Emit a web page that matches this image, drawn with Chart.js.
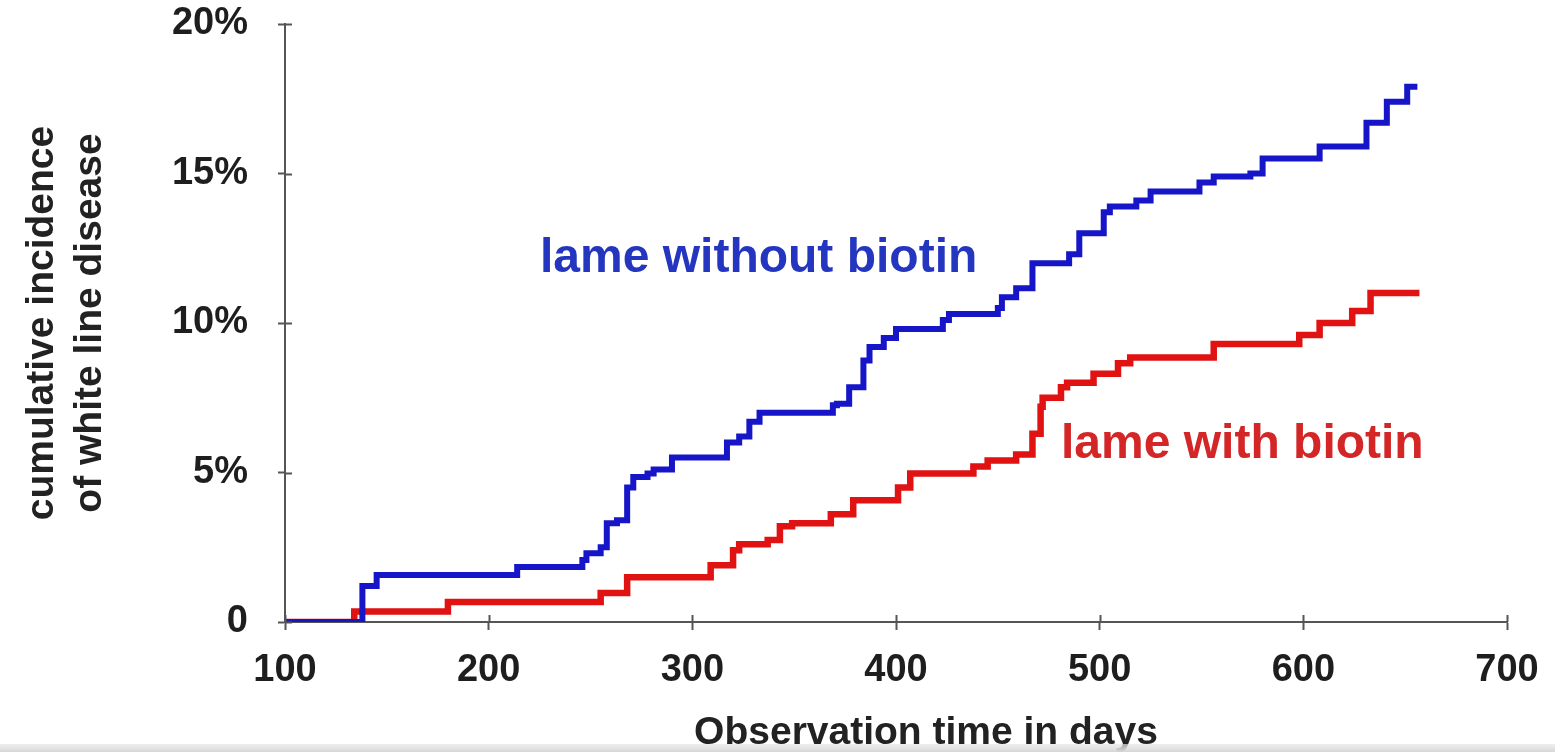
<!DOCTYPE html>
<html>
<head>
<meta charset="utf-8">
<script src="https://cdn.jsdelivr.net/npm/chart.js@4.4.0/dist/chart.umd.min.js"></script>
<style>
  html, body { margin: 0; padding: 0; background: #fff; }
  #wrap { width: 1555px; height: 752px; position: relative; }
</style>
</head>
<body>
<div id="wrap"><canvas id="chart_id"></canvas></div>
<script>
// day of each step and cumulative incidence (%) after it
const blueDays = [100, 132, 138, 145, 214, 246, 248, 255, 258, 263, 268, 271, 278, 281, 290, 317, 323, 328, 333, 369, 371, 377, 384, 387, 394, 400, 423, 426, 450, 452, 459, 467, 485, 490, 502, 505, 518, 525, 549, 556, 574, 580, 608, 631, 641, 651, 656];
const bluePct  = [0, 0, 1.2, 1.57, 1.84, 2.07, 2.3, 2.5, 3.3, 3.4, 4.5, 4.85, 4.97, 5.1, 5.5, 6.0, 6.2, 6.7, 7.0, 7.25, 7.3, 7.85, 8.75, 9.2, 9.5, 9.8, 10.1, 10.3, 10.5, 10.86, 11.16, 12.0, 12.3, 13.0, 13.7, 13.9, 14.1, 14.4, 14.7, 14.9, 15.0, 15.5, 15.9, 16.7, 17.4, 17.9, 17.9];

const redDays = [100, 134, 180, 255, 268, 309, 320, 323, 337, 343, 349, 368, 379, 401, 407, 438, 445, 459, 467, 471, 472, 481, 484, 497, 509, 515, 556, 598, 608, 624, 633, 657];
const redPct  = [0, 0.35, 0.67, 0.97, 1.5, 1.9, 2.4, 2.6, 2.74, 3.2, 3.3, 3.6, 4.07, 4.5, 4.97, 5.2, 5.4, 5.6, 6.3, 7.2, 7.5, 7.85, 8.0, 8.3, 8.65, 8.85, 9.3, 9.6, 10.0, 10.4, 11.0, 11.0];

const xTicks = [100, 200, 300, 400, 500, 600, 700];
const yTicks = [0, 5, 10, 15, 20];

const blueColor = '#1616c8';
const redColor = '#e01212';

function toPoints(days, pct) {
    return days.map((d, i) => ({ x: d, y: pct[i] }));
}

// labels on the plot, x title and the cross ticks
const extras = {
    id: 'extras',
    afterDraw(chart) {
        const ctx = chart.ctx;
        const xs = chart.scales.x, ys = chart.scales.y;
        ctx.save();
        ctx.strokeStyle = '#555';
        ctx.lineWidth = 2;
        xTicks.forEach(v => {
            let px = Math.round(xs.getPixelForValue(v)) + 0.5;
            ctx.beginPath();
            ctx.moveTo(px, ys.bottom);
            ctx.lineTo(px, ys.bottom - 7);
            ctx.stroke();
        });
        yTicks.forEach(v => {
            let py = Math.round(ys.getPixelForValue(v)) + 0.5;
            ctx.beginPath();
            ctx.moveTo(xs.left, py);
            ctx.lineTo(xs.left + 7, py);
            ctx.stroke();
        });

        ctx.textBaseline = 'middle';
        ctx.font = 'bold 48px "Liberation Sans", Arial, sans-serif';
        ctx.fillStyle = '#2436c0';
        ctx.textAlign = 'left';
        ctx.fillText('lame without biotin', 540, 259);
        ctx.fillStyle = '#d42626';
        ctx.fillText('lame with biotin', 1061, 445);

        ctx.font = 'bold 39px "Liberation Sans", Arial, sans-serif';
        ctx.fillStyle = '#222';
        ctx.textAlign = 'center';
        ctx.fillText('Observation time in days', 926, 733);

        // grey strip at the bottom of the screenshot
        let g = ctx.createLinearGradient(0, 742, 0, 752);
        g.addColorStop(0, 'rgba(235,235,235,0.6)');
        g.addColorStop(1, '#d6d6d6');
        ctx.fillStyle = g;
        ctx.fillRect(0, 744, 1555, 8);
        ctx.restore();
    }
};

new Chart(document.getElementById('chart_id'), {
    type: 'line',
    plugins: [extras],
    data: {
        datasets: [
            {
                label: 'lame without biotin',
                data: toPoints(blueDays, bluePct),
                borderColor: blueColor,
                borderWidth: 6,
                stepped: true,
                pointRadius: 0,
                fill: false
            },
            {
                label: 'lame with biotin',
                data: toPoints(redDays, redPct),
                borderColor: redColor,
                borderWidth: 6.5,
                stepped: true,
                pointRadius: 0,
                fill: false
            }
        ]
    },
    options: {
        responsive: true,
        maintainAspectRatio: false,
        animation: false,
        layout: { padding: { left: 0, right: 48, top: 24, bottom: 0 } },
        plugins: {
            legend: { display: false },
            tooltip: { enabled: false }
        },
        scales: {
            x: {
                type: 'linear',
                min: 100,
                max: 700,
                afterFit: (s) => { s.height = 130; s.paddingLeft = 0; s.paddingRight = 0; },
                afterBuildTicks: (s) => { s.ticks = xTicks.map(v => ({ value: v })); },
                border: { color: '#555', width: 2 },
                grid: { drawOnChartArea: false, tickLength: 8, tickColor: '#555', tickWidth: 2 },
                ticks: {
                    color: '#1e1e1e',
                    padding: 18,
                    maxRotation: 0,
                    font: { family: '"Liberation Sans", Arial, sans-serif', size: 38, weight: 'bold' }
                },
                title: { display: false }
            },
            y: {
                min: 0,
                max: 20,
                afterFit: (s) => { s.width = 285; s.paddingTop = 0; s.paddingBottom = 0; },
                afterBuildTicks: (s) => { s.ticks = yTicks.map(v => ({ value: v })); },
                border: { color: '#555', width: 2 },
                grid: { drawOnChartArea: false, tickLength: 7, tickColor: '#555', tickWidth: 2 },
                ticks: {
                    color: '#1e1e1e',
                    padding: 30,
                    callback: (v) => v === 0 ? '0' : v + '%',
                    font: { family: '"Liberation Sans", Arial, sans-serif', size: 38, weight: 'bold' }
                },
                title: {
                    display: true,
                    text: ['cumulative incidence', 'of white line disease'],
                    color: '#222',
                    padding: { top: 18, bottom: 0 },
                    font: { family: '"Liberation Sans", Arial, sans-serif', size: 39, weight: 'bold', lineHeight: 1.23 }
                }
            }
        }
    }
});
</script>
</body>
</html>
